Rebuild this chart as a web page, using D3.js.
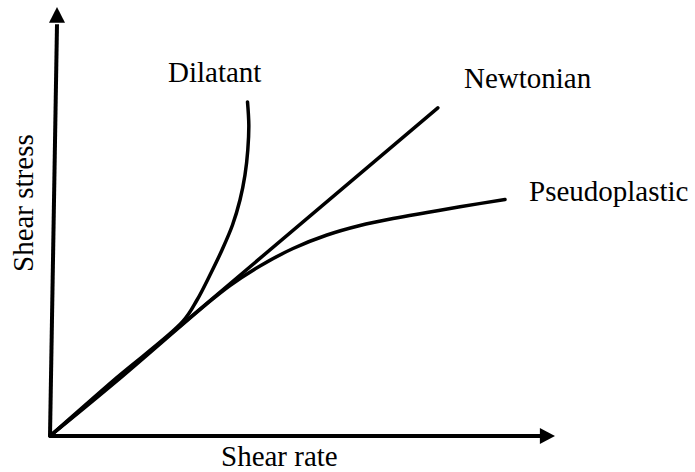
<!DOCTYPE html>
<html>
<head>
<meta charset="utf-8">
<script src="https://cdn.jsdelivr.net/npm/d3@7"></script>
<style>
  html, body { margin: 0; padding: 0; background: #fff; }
  svg { display: block; }
  #chart text { font-family: "Liberation Serif", "Times New Roman", serif !important; }
</style>
</head>
<body>
<svg id="chart" width="695" height="472"></svg>
<script>
// ---- data (schematic flow curves, in arbitrary axis units 0..100) ----
const seriesNames = ["Newtonian", "Pseudoplastic", "Dilatant"];
const newtonianX = [0, 76.8];
const newtonianY = [0, 76.5];
const pseudoX = [0, 13, 30.69, 35.64, 41.58, 48.12, 54.85, 61.39, 67.92, 74.65, 81.19, 90.10];
const pseudoY = [0, 12.6, 30.45, 35.08, 39.63, 43.71, 46.85, 49.07, 50.70, 52.10, 53.43, 55.13];
const dilatantX = [0, 13, 26.34, 29.11, 31.68, 34.06, 36.14, 37.62, 38.61, 39.17, 39.37, 39.11];
const dilatantY = [0, 13.4, 26.75, 31.70, 37.53, 43.36, 49.18, 55.01, 60.84, 66.67, 72.49, 77.86];
const xAxisTitle = "Shear rate";
const yAxisTitle = "Shear stress";

const svg = d3.select("#chart");
const x = d3.scaleLinear().domain([0, 100]).range([50, 555]);
const y = d3.scaleLinear().domain([0, 100]).range([436, 7]);

// ---- axes with arrowheads ----
const ax = svg.append("g");
ax.append("line")
  .attr("x1", x(0)).attr("y1", y(0))
  .attr("x2", x(98.3)).attr("y2", y(0))
  .attr("stroke", "#000").attr("stroke-width", 4);
ax.append("path")
  .attr("d", `M${x(100)},${y(0)} L${x(97)},${y(0) - 8} L${x(97)},${y(0) + 8} Z`)
  .attr("fill", "#000");
ax.append("line")
  .attr("x1", x(0)).attr("y1", y(0))
  .attr("x2", x(0) + 7).attr("y2", y(96))
  .attr("stroke", "#000").attr("stroke-width", 4);
ax.append("path")
  .attr("d", `M${x(0) + 7},${y(100)} L${x(0) - 1},${y(96.3)} L${x(0) + 15},${y(96.3)} Z`)
  .attr("fill", "#000");

// ---- curves ----
const toPts = (xs, ys) => xs.map((v, i) => [v, ys[i]]);
const line = d3.line().x(d => x(d[0])).y(d => y(d[1])).curve(d3.curveCatmullRom.alpha(0.5));
const curves = [
  toPts(newtonianX, newtonianY),
  toPts(pseudoX, pseudoY),
  toPts(dilatantX, dilatantY)
];
svg.append("g").selectAll("path").data(curves).join("path")
  .attr("d", line)
  .attr("fill", "none")
  .attr("stroke", "#000")
  .attr("stroke-width", 3.5)
  .attr("stroke-linecap", "round");

// ---- labels ----
const fs = 29;
function label(txt) {
  return svg.append("text")
    .attr("font-size", fs)
    .attr("font-family", "Liberation Serif")
    .attr("fill", "#000")
    .text(txt);
}
label(seriesNames[2]).attr("x", 168).attr("y", 82);
label(seriesNames[0]).attr("x", 464).attr("y", 88);
label(seriesNames[1]).attr("x", 529).attr("y", 201);
label(xAxisTitle).attr("x", 221).attr("y", 466);
label(yAxisTitle).attr("transform", "translate(33,272) rotate(-90)");
</script>
</body>
</html>
